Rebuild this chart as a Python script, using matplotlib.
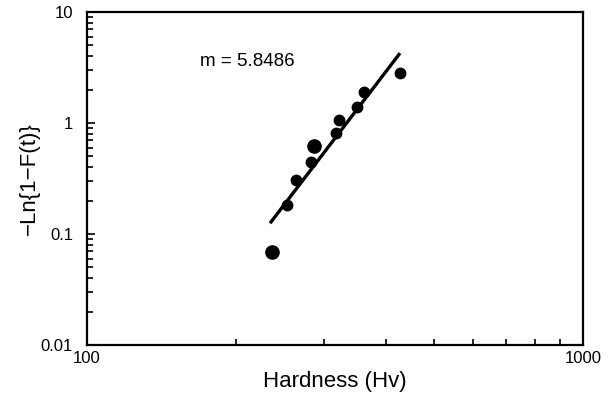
import numpy as np
import matplotlib
matplotlib.use("Agg")
import matplotlib.pyplot as plt
from matplotlib.ticker import FixedLocator, FixedFormatter, LogLocator, NullFormatter

plt.rcParams['font.family'] = ['Liberation Sans', 'DejaVu Sans']

# data
hardness = [252.7, 263.9, 282.5, 317.7, 322.6, 349.8, 361.8, 427.6]
lnF = [0.183, 0.307, 0.448, 0.818, 1.065, 1.402, 1.914, 2.80]
hardness_big = [235.8, 286.9]
lnF_big = [0.069, 0.621]

m = 5.8486
fit_x0, fit_y0 = 233.9, 0.125
fit_x = np.array([233.9, 427.6])
fit_y = fit_y0 * (fit_x / fit_x0) ** m

fig = plt.figure(figsize=(6.16, 3.98), dpi=100)
ax = fig.add_axes([87/616, 1-345/398, (583-87)/616, (345-12)/398])

ax.plot(fit_x, fit_y, 'k-', lw=2.4, solid_capstyle='butt')
ax.plot(hardness, lnF, 'ko', ms=7.5)
ax.plot(hardness_big, lnF_big, 'ko', ms=9.5)

ax.set_xscale('log')
ax.set_yscale('log')
ax.set_xlim(100, 1000)
ax.set_ylim(0.01, 10)

ax.xaxis.set_major_locator(FixedLocator([100, 1000]))
ax.xaxis.set_major_formatter(FixedFormatter(['100', '1000']))
ax.yaxis.set_major_locator(FixedLocator([0.01, 0.1, 1, 10]))
ax.yaxis.set_major_formatter(FixedFormatter(['0.01', '0.1', '1', '10']))
ax.xaxis.set_minor_locator(LogLocator(base=10, subs=np.arange(2, 10)))
ax.yaxis.set_minor_locator(LogLocator(base=10, subs=np.arange(2, 10)))
ax.xaxis.set_minor_formatter(NullFormatter())
ax.yaxis.set_minor_formatter(NullFormatter())

ax.tick_params(which='both', direction='in', top=False, right=False, width=1.2)
ax.tick_params(which='major', length=6, labelsize=12)
ax.tick_params(which='minor', length=4)
ax.tick_params(axis='y', which='major', pad=10)
ax.tick_params(axis='x', which='major', pad=4)

for s in ax.spines.values():
    s.set_linewidth(1.6)

ax.set_xlabel('Hardness (Hv)', fontsize=16, labelpad=4)
ax.set_ylabel('\u2212Ln{1\u2212F(t)}', fontsize=16, labelpad=0.5)

ax.text(169, 3.6, 'm = 5.8486', fontsize=13.5, ha='left', va='center')

fig.savefig('out.png', dpi=100)
